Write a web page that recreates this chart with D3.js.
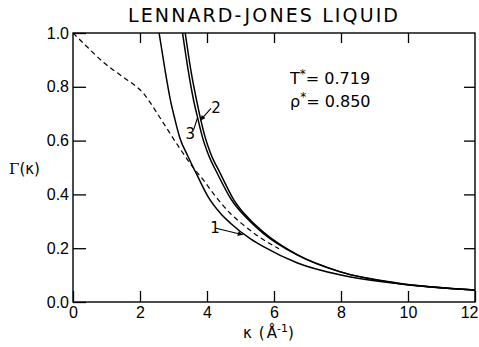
<!DOCTYPE html>
<html>
<head>
<meta charset="utf-8">
<script src="https://cdn.jsdelivr.net/npm/d3@7"></script>
<style>
  html, body { margin: 0; padding: 0; background: #fff; }
  svg { display: block; font-family: "DejaVu Sans", sans-serif; }
</style>
</head>
<body>
<svg id="chart" width="479" height="347"></svg>
<script>
// Curve 1 (solid, lowest at the right)
const curve1Kappa = [2.57, 2.75, 2.9, 3.04, 3.19, 3.43, 3.73, 4.03, 4.4, 4.7, 5.3, 5.7, 6.7, 8.0, 9.7, 12];
const curve1Gamma = [1.0, 0.86, 0.755, 0.68, 0.61, 0.542, 0.465, 0.392, 0.33, 0.293, 0.235, 0.205, 0.145, 0.10, 0.068, 0.045];
// Curve 2 (solid, right line of the pair)
const curve2Kappa = [3.35, 3.52, 3.68, 3.81, 3.95, 4.1, 4.4, 4.8, 5.25, 5.7, 6.69, 7.97, 9.67, 12];
const curve2Gamma = [1.0, 0.86, 0.755, 0.68, 0.61, 0.555, 0.477, 0.38, 0.31, 0.258, 0.176, 0.113, 0.071, 0.045];
// Curve 3 (solid, left line of the pair)
const curve3Kappa = [3.27, 3.44, 3.6, 3.73, 3.87, 4.02, 4.32, 4.73, 5.2, 5.67, 6.69, 7.97, 9.67, 12];
const curve3Gamma = [1.0, 0.86, 0.75, 0.68, 0.61, 0.555, 0.475, 0.38, 0.31, 0.256, 0.175, 0.112, 0.07, 0.045];
// Dashed curve
const dashedKappa = [0, 0.45, 0.9, 1.5, 1.9, 2.1, 2.3, 2.7, 3.13, 3.55, 3.9, 4.24, 4.69, 5.1, 5.58, 6.15];
const dashedGamma = [1.0, 0.945, 0.892, 0.836, 0.8, 0.776, 0.742, 0.665, 0.582, 0.506, 0.452, 0.395, 0.33, 0.285, 0.24, 0.198];

const xTicks = [0, 2, 4, 6, 8, 10, 12];
const yTicks = [0, 0.2, 0.4, 0.6, 0.8, 1.0];

const width = 479, height = 347;
const margin = { top: 33, right: 4, bottom: 45, left: 73 };
const innerW = width - margin.left - margin.right;
const innerH = height - margin.top - margin.bottom;

const svg = d3.select('#chart');
const x = d3.scaleLinear().domain([0, 12]).range([0, innerW]);
const y = d3.scaleLinear().domain([0, 1]).range([innerH, 0]);

const g = svg.append('g').attr('transform', `translate(${margin.left},${margin.top})`);

svg.append('defs').html(`
  <clipPath id="clip"><rect x="0" y="0" width="${innerW}" height="${innerH}"></rect></clipPath>
  <marker id="arrow" viewBox="0 0 10 10" refX="10" refY="5" markerWidth="7" markerHeight="5"
          markerUnits="userSpaceOnUse" orient="auto">
    <path d="M0,0 L10,5 L0,10 z" fill="#000"></path>
  </marker>`);

// Title
svg.append('text')
  .attr('x', 263).attr('y', 22)
  .attr('text-anchor', 'middle')
  .attr('font-size', 19)
  .attr('textLength', 270)
  .attr('lengthAdjust', 'spacing')
  .text('LENNARD-JONES  LIQUID');

// Axes (ticks point inward)
const noDomain = sel => sel.select('.domain').remove();

g.append('g')
  .attr('transform', `translate(0,${innerH})`)
  .call(d3.axisBottom(x).tickValues(xTicks).tickSize(-11).tickPadding(5).tickFormat(d3.format('d')))
  .call(noDomain)
  .call(sel => sel.selectAll('text').attr('font-size', 16).attr('fill', '#000'))
  .call(sel => sel.selectAll('line').attr('stroke', '#000').attr('stroke-width', 1.3))
  // the last label sits against the window edge; keep it inside
  .call(sel => sel.selectAll('.tick').filter(d => d === 12).select('text')
    .attr('text-anchor', 'end').attr('x', 3));

g.append('g')
  .call(d3.axisTop(x).tickValues([2, 4, 6, 8, 10]).tickSize(-10).tickFormat(''))
  .call(noDomain)
  .call(sel => sel.selectAll('line').attr('stroke', '#000').attr('stroke-width', 1.3));

g.append('g')
  .call(d3.axisLeft(y).tickValues(yTicks).tickSize(-13).tickPadding(4).tickFormat(d3.format('.1f')))
  .call(noDomain)
  .call(sel => sel.selectAll('text').attr('font-size', 16).attr('fill', '#000'))
  .call(sel => sel.selectAll('line').attr('stroke', '#000').attr('stroke-width', 1.3));

g.append('g')
  .attr('transform', `translate(${innerW},0)`)
  .call(d3.axisRight(y).tickValues([0.2, 0.4, 0.6, 0.8]).tickSize(-11).tickFormat(''))
  .call(noDomain)
  .call(sel => sel.selectAll('line').attr('stroke', '#000').attr('stroke-width', 1.3));

// Frame
g.append('rect')
  .attr('x', 0).attr('y', 0).attr('width', innerW).attr('height', innerH)
  .attr('fill', 'none').attr('stroke', '#000').attr('stroke-width', 1.4);

// Curves
const line = d3.line()
  .x(d => x(d[0]))
  .y(d => y(d[1]))
  .curve(d3.curveMonotoneX);

const series = [
  { k: curve1Kappa, gm: curve1Gamma, dash: null, w: 1.5 },
  { k: curve2Kappa, gm: curve2Gamma, dash: null, w: 1.5 },
  { k: curve3Kappa, gm: curve3Gamma, dash: null, w: 1.5 },
  { k: dashedKappa, gm: dashedGamma, dash: '5,3.5', w: 1.2 }
];

const plot = g.append('g').attr('clip-path', 'url(#clip)');
plot.selectAll('path.curve')
  .data(series)
  .join('path')
  .attr('class', 'curve')
  .attr('fill', 'none')
  .attr('stroke', '#000')
  .attr('stroke-width', d => d.w)
  .attr('stroke-dasharray', d => d.dash)
  .attr('d', d => line(d.k.map((v, i) => [v, d.gm[i]])));

// Curve labels with pointers (kappa, Gamma coordinates)
const labelText = ['1', '2', '3'];
const labelAt = [[4.1, 0.257], [4.13, 0.703], [3.36, 0.606]];
const pointerFrom = [[4.24, 0.275], [4.12, 0.72], [3.6, 0.64]];
const pointerTo = [[5.07, 0.25], [3.8, 0.675], [3.72, 0.686]];
const pointerHead = [true, true, false];

labelText.forEach((t, i) => {
  g.append('text')
    .attr('x', x(labelAt[i][0])).attr('y', y(labelAt[i][1]))
    .attr('font-size', 15)
    .text(t);
  g.append('line')
    .attr('x1', x(pointerFrom[i][0])).attr('y1', y(pointerFrom[i][1]))
    .attr('x2', x(pointerTo[i][0])).attr('y2', y(pointerTo[i][1]))
    .attr('stroke', '#000').attr('stroke-width', 1.1)
    .attr('marker-end', pointerHead[i] ? 'url(#arrow)' : null);
});

// State point annotation
const stateLines = [
  { sym: 'T', val: '= 0.719', gm: 0.812 },
  { sym: 'ρ', val: '= 0.850', gm: 0.724 }
];
stateLines.forEach(s => {
  const t = g.append('text')
    .attr('x', x(6.48)).attr('y', y(s.gm))
    .attr('font-size', 16);
  t.append('tspan').text(s.sym);
  t.append('tspan').attr('dy', -6).attr('font-size', 12).text('*');
  t.append('tspan').attr('dy', 6).text(s.val);
});

// Axis titles
const yl = svg.append('text')
  .attr('x', 9).attr('y', 174)
  .attr('font-size', 15);
yl.append('tspan').attr('font-family', 'DejaVu Serif').text('Γ');
yl.append('tspan').text('(κ)');

const xl = svg.append('text')
  .attr('x', 243).attr('y', 338)
  .attr('font-size', 15);
xl.append('tspan').text('κ');
xl.append('tspan').attr('dx', 7).text('(');
xl.append('tspan').attr('dx', 2).text('Å');
xl.append('tspan').attr('dy', -6).attr('font-size', 11).text('-1');
xl.append('tspan').attr('dy', 6).text(')');
</script>
</body>
</html>
